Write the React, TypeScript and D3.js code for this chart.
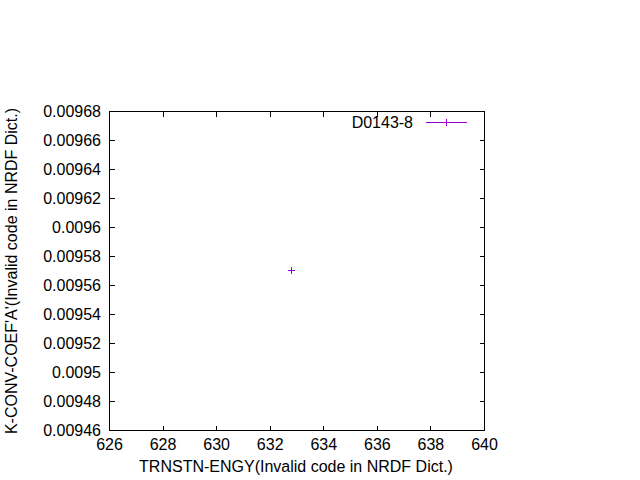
import React from "react";
import * as d3 from "d3";

const xTicks = [626, 628, 630, 632, 634, 636, 638, 640];
const yTicks = [0.00946, 0.00948, 0.0095, 0.00952, 0.00954, 0.00956, 0.00958, 0.0096, 0.00962, 0.00964, 0.00966, 0.00968];
const pointsX = [632.8];
const pointsY = [0.00957];
const seriesName = "D0143-8";
const xLabel = "TRNSTN-ENGY(Invalid code in NRDF Dict.)";
const yLabel = "K-CONV-COEF'A'(Invalid code in NRDF Dict.)";

export default function App() {
  const W = 640, H = 480;
  const L = 109.5, R = 484.5, T = 111.5, B = 430.5;
  const x = d3.scaleLinear().domain([626, 640]).range([L, R]);
  const y = d3.scaleLinear().domain([0.00946, 0.00968]).range([B, T]);
  const color = "#9400d3";
  const tl = 5;
  const font = "'Liberation Sans', Arial, sans-serif";
  const fmt = (v: number) => String(+v.toPrecision(6));
  const px = (v: number) => Math.round(v - 0.5) + 0.5;
  return (
    <svg width={W} height={H} style={{ position: "absolute", left: 0, top: 0, background: "#fff" }} fontFamily={font} fontSize={16}>
      <rect x={0} y={0} width={W} height={H} fill="#fff" />
      <g shapeRendering="crispEdges">
        {xTicks.map((t) => (
          <g key={"x" + t}>
            <line x1={px(x(t))} x2={px(x(t))} y1={B} y2={B - tl} stroke="#000" />
            <line x1={px(x(t))} x2={px(x(t))} y1={T} y2={T + tl} stroke="#000" />
          </g>
        ))}
        {yTicks.map((t) => (
          <g key={"y" + t}>
            <line x1={L} x2={L + tl} y1={px(y(t))} y2={px(y(t))} stroke="#000" />
            <line x1={R} x2={R - tl} y1={px(y(t))} y2={px(y(t))} stroke="#000" />
          </g>
        ))}
        <rect x={L} y={T} width={R - L} height={B - T} fill="none" stroke="#000" />
      </g>
      {xTicks.map((t) => (
        <text key={"xl" + t} x={x(t)} y={450} textAnchor="middle" fill="#000">{t}</text>
      ))}
      {yTicks.map((t) => (
        <text key={"yl" + t} x={101} y={y(t) + 5.5} textAnchor="end" fill="#000">{fmt(t)}</text>
      ))}
      {pointsX.map((pxv, i) => (
        <g key={"p" + i} stroke={color} shapeRendering="crispEdges">
          <line x1={px(x(pxv)) - 3.5} x2={px(x(pxv)) + 3.5} y1={px(y(pointsY[i]))} y2={px(y(pointsY[i]))} />
          <line x1={px(x(pxv))} x2={px(x(pxv))} y1={px(y(pointsY[i])) - 3.5} y2={px(y(pointsY[i])) + 3.5} />
        </g>
      ))}
      <text x={413} y={128} textAnchor="end" fill="#000">{seriesName}</text>
      <g stroke={color} shapeRendering="crispEdges">
        <line x1={426} x2={467} y1={122.5} y2={122.5} />
        <line x1={446.5} x2={446.5} y1={119} y2={126} />
      </g>
      <text x={296} y={472} textAnchor="middle" fill="#000">{xLabel}</text>
      <text transform={`translate(17, ${(T + B) / 2}) rotate(-90)`} textAnchor="middle" fill="#000">{yLabel}</text>
    </svg>
  );
}
